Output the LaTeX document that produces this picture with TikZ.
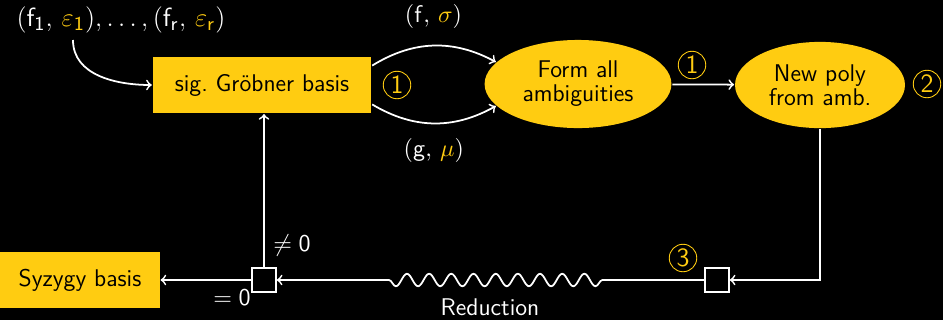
\documentclass[tikz,border=0pt]{standalone}
\usepackage{amsmath, amssymb}
\usepackage{tikz}
\usetikzlibrary{shapes.geometric, decorations.pathmorphing}
\usepackage{xcolor}
\definecolor{amber}{RGB}{255,204,17}

\begin{document}
\begin{tikzpicture}[x=0.016cm, y=-0.016cm, >=to, thick, white,
    every node/.style={font=\sffamily\fontsize{11}{11}\selectfont, text=white},
    yellowbox/.style={rectangle, fill=amber, text=black, inner sep=0pt},
    yellowell/.style={ellipse, fill=amber, text=black, inner sep=0pt, align=center},
    testbox/.style={rectangle, draw=white, fill=black, minimum size=0.38cm, inner sep=0pt},
    stepmark/.style={circle, draw=amber, text=amber, thin, minimum size=0.44cm, inner sep=0pt,
      font=\sffamily\fontsize{12}{12}\selectfont}]

  % --- background / page size ---
  \fill[black] (0,0) rectangle (943,320);
  \useasboundingbox (0,0) rectangle (943,320);

  % --- rows ---
  \def\ytop{85}
  \def\ybot{280}

  % ============================================================
  % upper row
  % ============================================================
  \node[font=\fontsize{12.5}{13}\selectfont] (inp) at (121,20) {$(\mathsf{f}_\mathsf{1},\,{\color{amber}\varepsilon_\mathsf{1}}),\dots,(\mathsf{f}_\mathsf{r},\,{\color{amber}\varepsilon_\mathsf{r}})$};
  \coordinate (inpfoot) at (73,40);

  \node[yellowbox, minimum width=3.5cm, minimum height=0.9cm] (gb) at (262,\ytop) {sig.\ Gr\"obner basis};
  \node[stepmark] (m1) at (397,\ytop) {1};

  \node[yellowell, minimum width=2.99cm, minimum height=1.41cm] (fa) at (578,84) {Form all\\ambiguities};
  \node[stepmark] (m2) at (692,65) {1};

  \node[yellowell, minimum width=2.72cm, minimum height=1.38cm] (np) at (820,\ytop) {New poly\\from amb.};
  \node[stepmark] (m3) at (927,84) {2};

  \draw[->] (inpfoot) to[out=-90, in=180] (gb.west);
  \draw[->] (gb.10) to[bend left=30] node[above=4pt] {$(\mathsf{f},\,{\color{amber}\sigma})$} (fa.165);
  \draw[->] (gb.-10) to[bend right=30] node[below=3pt] {$(\mathsf{g},\,{\color{amber}\mu})$} (fa.195);
  \draw[->] (fa) -- (np);

  % ============================================================
  % lower row: reduction and test
  % ============================================================
  \node[testbox] (sq2) at (717,\ybot) {};
  \node[stepmark] (m4) at (683,258) {3};
  \node[testbox] (sq1) at (264,\ybot) {};
  \node[yellowbox, minimum width=2.55cm, minimum height=0.91cm] (sb) at (80,\ybot) {Syzygy basis};

  \draw[->] (np.south) |- (sq2.east);
  \draw[->, decorate, decoration={snake, amplitude=0.1cm, segment length=0.355cm,
      pre length=1.63cm, post length=1.66cm}] (sq2.west) -- (sq1.east);
  \node (red) at (490,307) {Reduction};

  \draw[->] (sq1.north) -- (sq1.north |- gb.south);
  \node (nz) at (292,245) {$\neq \mathsf{0}$};
  \draw[->] (sq1.west) -- (sb.east);
  \node (iz) at (232,298) {$= \mathsf{0}$};

\end{tikzpicture}
\end{document}
